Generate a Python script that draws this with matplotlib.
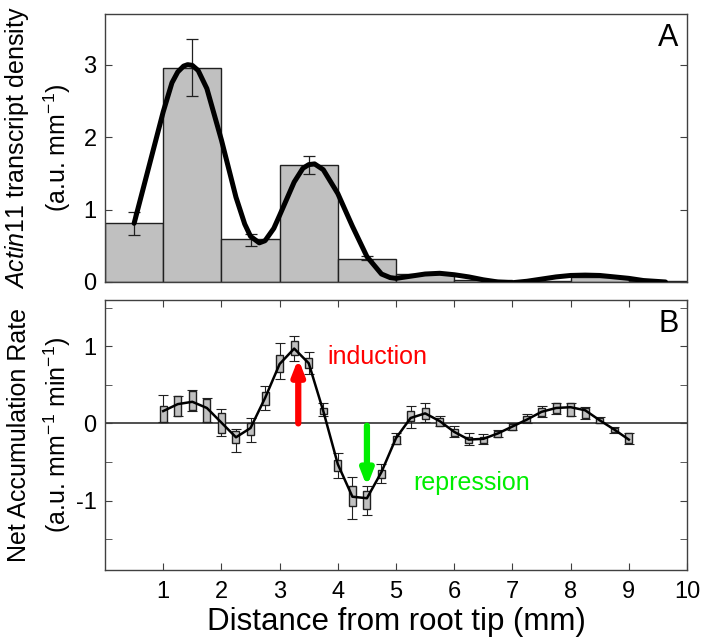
import numpy as np
import matplotlib
matplotlib.use("Agg")
import matplotlib.pyplot as plt

plt.rcParams["font.family"] = ["Liberation Sans", "DejaVu Sans"]
plt.rcParams["mathtext.fontset"] = "custom"
plt.rcParams["mathtext.rm"] = "Liberation Sans"
plt.rcParams["mathtext.it"] = "Liberation Sans:italic"
plt.rcParams["axes.unicode_minus"] = False

# panel A: binned transcript density (1 mm bins)
bin_centers = [0.5, 1.5, 2.5, 3.5, 4.5, 5.5, 6.5, 7.5, 8.5, 9.5]
bin_heights = [0.81, 2.95, 0.59, 1.62, 0.32, 0.11, 0.03, 0.01, 0.07, 0.02]
err_x = [0.5, 1.5, 2.5, 3.5, 4.5]
err_lo = [0.65, 2.57, 0.50, 1.49, 0.30]
err_hi = [0.97, 3.35, 0.66, 1.74, 0.36]

# smooth fit curve in panel A
fit_x = [0.5, 0.75, 1.0, 1.15, 1.25, 1.35, 1.42, 1.5, 1.6, 1.75, 2.0, 2.25, 2.4, 2.5,
         2.65, 2.75, 2.9, 3.0, 3.25, 3.4, 3.5, 3.6, 3.75, 4.0, 4.25, 4.5, 4.75, 4.9,
         5.0, 5.25, 5.5, 5.75, 6.0, 6.25, 6.5, 6.75, 7.0, 7.25, 7.5, 7.75, 8.0,
         8.25, 8.5, 8.75, 9.0, 9.25, 9.63]
fit_y = [0.81, 1.58, 2.35, 2.75, 2.9, 2.98, 3.0, 2.99, 2.92, 2.67, 1.96, 1.17, 0.8, 0.63,
         0.54, 0.57, 0.74, 0.92, 1.38, 1.57, 1.62, 1.63, 1.55, 1.22, 0.77, 0.35, 0.11, 0.06,
         0.05, 0.08, 0.11, 0.12, 0.10, 0.07, 0.03, 0.0, -0.01, 0.01, 0.04, 0.07, 0.09,
         0.095, 0.09, 0.07, 0.05, 0.02, 0.0]

# panel B: net accumulation rate
rate_x = [1.0, 1.25, 1.5, 1.75, 2.0, 2.25, 2.5, 2.75, 3.0, 3.25, 3.5, 3.75, 4.0,
          4.25, 4.5, 4.75, 5.0, 5.25, 5.5, 5.75, 6.0, 6.25, 6.5, 6.75, 7.0, 7.25,
          7.5, 7.75, 8.0, 8.25, 8.5, 8.75, 9.0]
rate = [0.16, 0.25, 0.28, 0.20, 0.01, -0.18, -0.06, 0.33, 0.77, 0.97, 0.78, 0.16, -0.53,
        -0.95, -0.97, -0.63, -0.19, 0.07, 0.13, 0.03, -0.11, -0.21, -0.20, -0.13, -0.04, 0.05,
        0.15, 0.20, 0.21, 0.17, 0.04, -0.08, -0.21]
box_hi = [0.23, 0.36, 0.42, 0.32, 0.14, -0.10, 0.01, 0.41, 0.89, 1.07, 0.85, 0.20, -0.47,
          -0.81, -0.87, -0.60, -0.16, 0.16, 0.20, 0.07, -0.07, -0.17, -0.17, -0.10, -0.01, 0.10,
          0.20, 0.26, 0.26, 0.20, 0.07, -0.06, -0.12]
box_lo = [0.02, 0.10, 0.17, 0.02, -0.12, -0.25, -0.15, 0.24, 0.67, 0.89, 0.72, 0.12, -0.62,
          -1.07, -1.11, -0.71, -0.27, 0.03, 0.06, -0.03, -0.16, -0.26, -0.26, -0.17, -0.08, 0.02,
          0.10, 0.13, 0.10, 0.07, 0.01, -0.11, -0.26]
whisk_hi = [0.37, 0.36, 0.43, 0.33, 0.19, -0.07, 0.07, 0.49, 1.04, 1.13, 0.92, 0.27, -0.38,
            -0.69, -0.81, -0.53, -0.13, 0.22, 0.26, 0.09, -0.03, -0.13, -0.14, -0.09, 0.0, 0.12,
            0.23, 0.27, 0.27, 0.21, 0.08, -0.05, -0.12]
whisk_lo = [0.02, 0.10, 0.16, 0.02, -0.16, -0.37, -0.24, 0.17, 0.57, 0.81, 0.64, 0.09, -0.71,
            -1.24, -1.19, -0.77, -0.27, -0.06, 0.02, -0.04, -0.18, -0.28, -0.27, -0.18, -0.09, 0.01,
            0.08, 0.12, 0.09, 0.06, 0.0, -0.12, -0.27]

grey = "#c0c0c0"
spine = "#404040"

fig = plt.figure(figsize=(7.03, 6.4), dpi=100)
axA = fig.add_axes([0.1494, 0.5594, 0.8279, 0.4188])
axB = fig.add_axes([0.1494, 0.1094, 0.8279, 0.4219])

# ---- panel A
axA.bar(bin_centers, bin_heights, width=1.0, color=grey, edgecolor="#202020", lw=1.0, zorder=1)
rate_A = np.array(bin_heights[:5])
axA.errorbar(err_x, rate_A,
             yerr=[rate_A - np.array(err_lo), np.array(err_hi) - rate_A],
             fmt="none", ecolor="#202020", elinewidth=0.9, capsize=4, capthick=0.9, zorder=2)
axA.plot(fit_x, fit_y, color="black", lw=3.6, solid_capstyle="round",
         solid_joinstyle="round", zorder=3)
axA.set_xlim(0, 10)
axA.set_ylim(0, 3.7)
axA.set_yticks([0, 1, 2, 3])
axA.set_xticks([])
axA.tick_params(axis="y", direction="in", length=5, right=True, labelsize=17,
                color=spine, pad=6)
axA.set_ylabel(r"$\mathit{Actin11}$ transcript density" + "\n" + r"(a.u. mm$^{-1}$)",
               fontsize=18, linespacing=1.45)
axA.yaxis.set_label_coords(-0.055, 0.5)
axA.text(0.985, 0.965, "A", transform=axA.transAxes, ha="right", va="top", fontsize=22)

# ---- panel B
axB.axhline(0, color="#202020", lw=1.1, zorder=1)
rate_arr = np.array(rate)
axB.errorbar(rate_x, rate_arr,
             yerr=[rate_arr - np.array(whisk_lo), np.array(whisk_hi) - rate_arr],
             fmt="none", ecolor="#202020", elinewidth=0.8, capsize=3.5, capthick=0.8, zorder=2)
axB.bar(rate_x, np.array(box_hi) - np.array(box_lo), bottom=box_lo, width=0.12,
        color=grey, edgecolor="#202020", lw=1.0, zorder=3)
axB.plot(rate_x, rate, color="black", lw=1.8, zorder=4)

axB.annotate("", xy=(3.32, 0.84), xytext=(3.32, 0.0),
             arrowprops=dict(arrowstyle="-|>,head_width=0.35,head_length=0.9",
                             color="#ff0000", lw=4.5, shrinkA=0, shrinkB=0), zorder=5)
axB.annotate("", xy=(4.5, -0.82), xytext=(4.5, -0.03),
             arrowprops=dict(arrowstyle="-|>,head_width=0.35,head_length=0.9",
                             color="#00ee00", lw=4.5, shrinkA=0, shrinkB=0), zorder=5)
axB.text(3.82, 0.86, "induction", color="#ff0000", fontsize=18, va="center")
axB.text(5.3, -0.77, "repression", color="#00ee00", fontsize=18, va="center")

axB.set_xlim(0, 10)
axB.set_ylim(-1.9, 1.6)
axB.set_xticks(range(1, 11))
axB.set_yticks([-1, 0, 1])
axB.set_yticks([-1.5, -0.5, 0.5, 1.5], minor=True)
axB.tick_params(axis="both", which="both", direction="in", length=5, top=True, right=True,
                labelsize=17, color=spine)
axB.tick_params(axis="y", pad=6)
axB.tick_params(axis="x", pad=8)
axB.set_xlabel("Distance from root tip (mm)", fontsize=22.5, labelpad=3)
axB.set_ylabel("Net Accumulation Rate" + "\n" + r"(a.u. mm$^{-1}$ min$^{-1}$)",
               fontsize=18, linespacing=1.45)
axB.yaxis.set_label_coords(-0.055, 0.5)
axB.text(0.985, 0.965, "B", transform=axB.transAxes, ha="right", va="top", fontsize=22)

for ax in (axA, axB):
    for s in ax.spines.values():
        s.set_color(spine)
        s.set_linewidth(1.0)

fig.savefig("out.png", dpi=100)
